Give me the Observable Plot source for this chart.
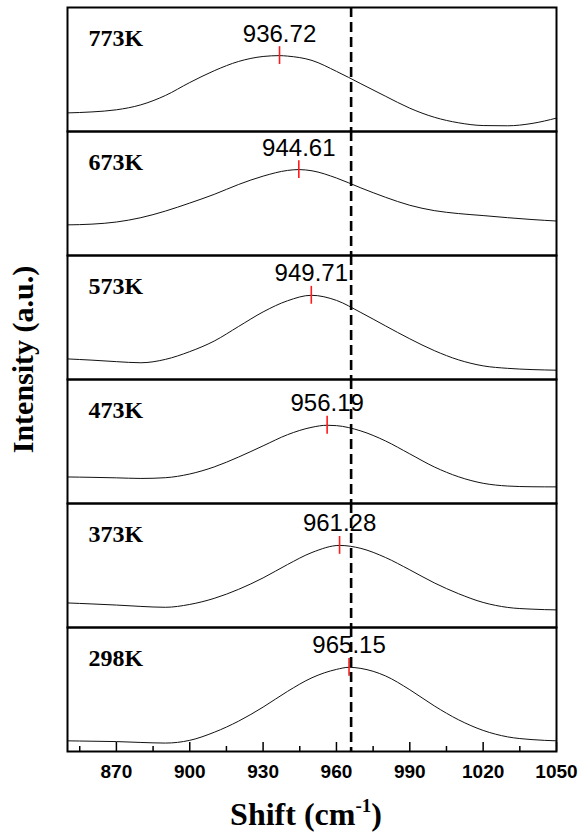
<!DOCTYPE html>
<html>
<head>
<meta charset="utf-8">
<script src="https://cdn.jsdelivr.net/npm/d3@7"></script>
<script src="https://cdn.jsdelivr.net/npm/@observablehq/plot@0.6"></script>
<style>
  html, body { margin: 0; padding: 0; background: #fff; }
  #chart { width: 579px; height: 834px; }
</style>
</head>
<body>
<div id="chart"></div>
<script>
// ---- data (intensity in arbitrary units, 0-100 per panel) ----
const temps = ["773K", "673K", "573K", "473K", "373K", "298K"];
const peakShifts = [936.72, 944.61, 949.71, 956.19, 961.28, 965.15];
const peakHeights = [61.2, 69.3, 67.9, 63.1, 66.2, 67.9];
const refShift = 966;                       // dashed reference line
const majorTicks = [870, 900, 930, 960, 990, 1020, 1050];
const minorTicks = [855, 885, 915, 945, 975, 1005, 1035];

const shift773 = [850, 860, 870, 880, 890, 900, 910, 920, 930, 936.72, 940, 950, 960, 970, 980, 990, 1000, 1010, 1020, 1030, 1040, 1050];
const int773   = [15.0, 15.8, 17.5, 21.5, 29, 39.5, 49, 56.5, 60.5, 61.2, 60.8, 57.3, 48.5, 38.5, 28.5, 18.8, 11.5, 7, 4.8, 4.6, 6.5, 10.8];

const shift673 = [850, 860, 870, 880, 890, 900, 910, 920, 930, 940, 944.61, 950, 960, 970, 980, 990, 1000, 1010, 1020, 1030, 1040, 1050];
const int673   = [24.7, 25.3, 27, 30.5, 35.8, 42.3, 49.3, 57.3, 64, 68.6, 69.3, 68.3, 62.5, 54.5, 47, 40.5, 36.2, 33.8, 32.2, 30.5, 29, 27.8];

const shift573 = [850, 860, 870, 880, 890, 900, 910, 920, 930, 940, 949.71, 960, 970, 980, 990, 1000, 1010, 1020, 1030, 1040, 1050];
const int573   = [16.6, 15.6, 14.4, 13.5, 16.2, 22.5, 31, 42.8, 54.5, 63.5, 67.9, 63.8, 54, 43.3, 32.8, 23.3, 15.8, 11, 9, 8, 7.5];

const shift473 = [850, 860, 870, 880, 890, 900, 910, 920, 930, 940, 950, 956.19, 960, 970, 980, 990, 1000, 1010, 1020, 1030, 1040, 1050];
const int473   = [21.4, 21.1, 20.7, 20.2, 20.8, 23.8, 29.5, 37.5, 46.5, 55.5, 61.5, 63.1, 62.8, 58.5, 50.5, 40, 29.5, 21.5, 16.3, 14.1, 13.5, 13.4];

const shift373 = [850, 860, 870, 880, 890, 900, 910, 920, 930, 940, 950, 961.28, 970, 980, 990, 1000, 1010, 1020, 1030, 1040, 1050];
const int373   = [19.8, 19, 18.1, 17, 16.3, 18.6, 23.5, 30.8, 40, 50.8, 60.5, 66.2, 63.8, 56.5, 46.5, 36, 27.2, 20.2, 16.2, 14.8, 14.2];

const shift298 = [850, 860, 870, 880, 890, 900, 910, 920, 930, 940, 950, 960, 965.15, 970, 980, 990, 1000, 1010, 1020, 1030, 1040, 1050];
const int298   = [8.6, 8.3, 8, 7.3, 6.8, 9, 15.5, 24.5, 35.8, 48.5, 59.5, 66.2, 67.9, 67, 61, 49.8, 36.8, 25.5, 17, 11.8, 9.6, 8.6];

// ---- build tables ----
const series = [
  ["773K", shift773, int773], ["673K", shift673, int673], ["573K", shift573, int573],
  ["473K", shift473, int473], ["373K", shift373, int373], ["298K", shift298, int298]
];
const spectra = series.flatMap(([temp, xs, ys]) => xs.map((x, i) => ({temp, shift: x, intensity: ys[i]})));
const peaks = temps.map((temp, i) => ({temp, shift: peakShifts[i], h: peakHeights[i]}));

const sansFont = "'Liberation Sans', Arial, Helvetica, sans-serif";
const serifFont = "'Liberation Serif', 'Times New Roman', Times, serif";
const xLabel = "Shift (cm-1)";
const yLabel = "Intensity (a.u.)";

const chart = Plot.plot({
  width: 579,
  height: 834,
  marginTop: 4,
  marginLeft: 67,
  marginRight: 23,
  marginBottom: 81,
  style: {background: "#fff", color: "#000"},
  x: {domain: [850, 1050]},
  y: {domain: [0, 100], axis: null},
  fy: {domain: temps, padding: 0, axis: null, label: null},
  marks: [
    Plot.line(spectra, {x: "shift", y: "intensity", fy: "temp", curve: "monotone-x", stroke: "#111", strokeWidth: 1}),
    Plot.ruleX(peaks, {x: "shift", y1: d => d.h - 7.2, y2: d => d.h + 7.2, fy: "temp", stroke: "#ff1a1a", strokeWidth: 1.6}),
    Plot.text(peaks, {x: "shift", y: "h", fy: "temp", text: d => d.shift.toFixed(2), dy: -14, lineAnchor: "bottom",
      fontSize: 24, fontFamily: sansFont, fill: "#000"}),
    Plot.text(temps, {fy: d => d, text: d => d, frameAnchor: "top-left", textAnchor: "start", lineAnchor: "bottom",
      dx: 21, dy: 38, fontSize: 24, fontWeight: "bold", fontFamily: serifFont, fill: "#000"}),
    Plot.ruleX([refShift], {x: d => d, stroke: "#000", strokeWidth: 2.6, strokeDasharray: "10,5"}),
    Plot.frame({stroke: "#000", strokeWidth: 2}),
    Plot.axisX({ticks: minorTicks, tickSize: -5, tickFormat: () => "", label: null, strokeWidth: 1.5}),
    Plot.axisX({ticks: majorTicks, tickSize: -9, tickPadding: 22, tickFormat: d => String(d), label: null, strokeWidth: 1.5,
      fontSize: 19, fontWeight: "bold", fontFamily: sansFont}),
    Plot.axisX({ticks: [], label: xLabel, labelAnchor: "center", labelArrow: "none", labelOffset: 73,
      fontSize: 32, fontWeight: "bold", fontFamily: serifFont}),
    Plot.axisFy({anchor: "left", ticks: [], label: yLabel, labelAnchor: "center", labelArrow: "none", labelOffset: 56,
      fontSize: 30, fontWeight: "bold", fontFamily: serifFont})
  ]
});

// superscript in the x-axis title (and drop any arrow)
d3.select(chart).selectAll("text").filter(function () { return this.textContent.startsWith("Shift"); }).each(function () {
  const t = d3.select(this);
  t.text(null);
  t.append("tspan").text("Shift (cm");
  t.append("tspan").attr("dy", -13).attr("font-size", 19).text("-1");
  t.append("tspan").attr("dy", 13).text(")");
  const g = this.parentNode;
  g.setAttribute("transform", (g.getAttribute("transform") || "") + " translate(-6,0)");
});
// the y title sits a little above the centre of the panels in the reference
d3.select(chart).selectAll("text").filter(function () { return this.textContent.startsWith("Intensity"); }).each(function () {
  this.textContent = yLabel;
  const g = this.parentNode;
  g.setAttribute("transform", (g.getAttribute("transform") || "") + " translate(0,-20)");
});

document.getElementById("chart").appendChild(chart);
</script>
</body>
</html>
